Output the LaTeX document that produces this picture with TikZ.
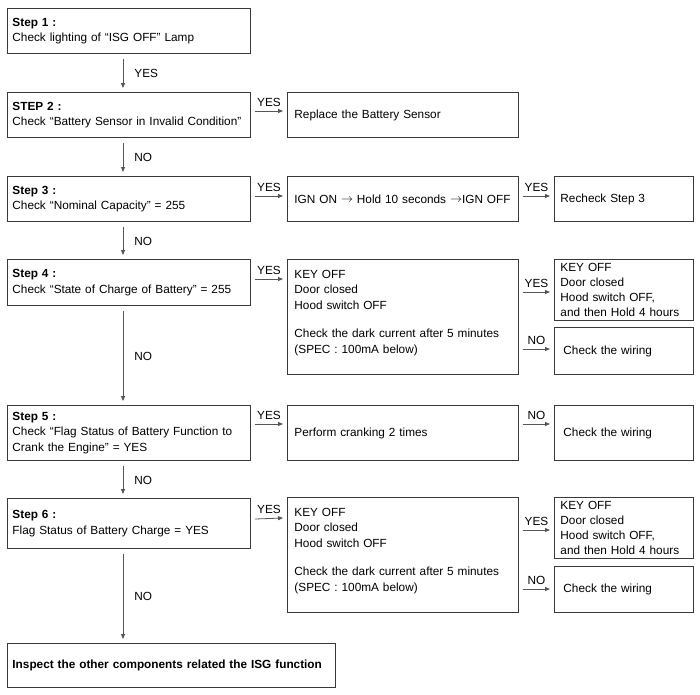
\documentclass[tikz,border=0pt]{standalone}
\usepackage{fontspec}
\setmainfont{Liberation Sans}
\usetikzlibrary{arrows.meta,calc}
\definecolor{boxc}{HTML}{3A3A3A}
\definecolor{arrc}{HTML}{555555}
\newcommand{\msz}{\fontsize{11.8}{15.5}\selectfont}
\newcommand{\rarr}{\raisebox{0.3pt}{$\rightarrow$}}
\begin{document}
\begin{tikzpicture}[x=1pt,y=-1pt,
  box/.style={draw=boxc, line width=0.9pt, anchor=north west, align=left,
    inner xsep=5pt, inner ysep=0pt, font=\msz},
  arr/.style={draw=arrc, line width=0.8pt, -{Triangle[length=5pt,width=4pt]}},
  lab/.style={font=\msz, inner sep=1pt, text=black}]
\useasboundingbox (0,0) rectangle (700,694);
% left column
\node[box, text width=233pt, minimum height=45pt] (s1) at (7,8) {\textbf{Step 1 :}\\Check lighting of “ISG OFF” Lamp};
\node[box, text width=233pt, minimum height=45pt] (s2) at (7,92) {\textbf{STEP 2 :}\\Check “Battery Sensor in Invalid Condition”};
\node[box, text width=233pt, minimum height=45pt] (s3) at (7,176) {\textbf{Step 3 :}\\Check “Nominal Capacity” = 255};
\node[box, text width=233pt, minimum height=46pt] (s4) at (7,259) {\textbf{Step 4 :}\\Check “State of Charge of Battery” = 255};
\node[box, text width=233pt, minimum height=55pt] (s5) at (7,405) {\textbf{Step 5 :}\\Check “Flag Status of Battery Function to\\Crank the Engine” = YES};
\node[box, text width=233pt, minimum height=50pt] (s6) at (7,498) {\textbf{Step 6 :}\\Flag Status of Battery Charge = YES};
\node[box, text width=318pt, minimum height=44pt] (fin) at (7,643) {\textbf{Inspect the other components related the ISG function}};
% middle column
\node[box, inner xsep=7pt, text width=217pt, minimum height=45pt] (r2) at (287,92) {Replace the Battery Sensor};
\node[box, inner xsep=7pt, text width=217pt, minimum height=45pt] (r3) at (287,176) {IGN ON \rarr{} Hold 10 seconds \rarr IGN OFF};
\node[box, inner xsep=7pt, text width=217pt, minimum height=115pt] (r4) at (287,259) {KEY OFF\\Door closed\\Hood switch OFF\\[13pt]Check the dark current after 5 minutes\\(SPEC : 100mA below)\\[-5pt]\mbox{}};
\node[box, inner xsep=7pt, text width=217pt, minimum height=55pt] (r5) at (287,405) {Perform cranking 2 times};
\node[box, inner xsep=7pt, text width=217pt, minimum height=115pt] (r6) at (287,497) {KEY OFF\\Door closed\\Hood switch OFF\\[13pt]Check the dark current after 5 minutes\\(SPEC : 100mA below)\\[-5pt]\mbox{}};
% right column
\node[box, inner xsep=6pt, text width=127pt, minimum height=45pt] (q3) at (554,176) {Recheck Step 3};
\node[box, inner xsep=6pt, text width=127pt, minimum height=61pt, font=\fontsize{11.8}{15}\selectfont] (q4a) at (554,259) {KEY OFF\\Door closed\\Hood switch OFF,\\and then Hold 4 hours};
\node[box, inner xsep=9pt, text width=121pt, minimum height=47pt] (q4b) at (554,327) {Check the wiring};
\node[box, inner xsep=9pt, text width=121pt, minimum height=55pt] (q5) at (554,405) {Check the wiring};
\node[box, inner xsep=6pt, text width=127pt, minimum height=61pt, font=\fontsize{11.8}{15}\selectfont] (q6a) at (554,497) {KEY OFF\\Door closed\\Hood switch OFF,\\and then Hold 4 hours};
\node[box, inner xsep=9pt, text width=121pt, minimum height=46pt] (q6b) at (554,566) {Check the wiring};
% vertical arrows
\draw[arr] ($(s1.south west)+(116,5)$) -- node[lab, midway, right, xshift=10pt] {YES} ($(s2.north west)+(116,-4)$);
\draw[arr] ($(s2.south west)+(116,5)$) -- node[lab, midway, right, xshift=10pt] {NO} ($(s3.north west)+(116,-4)$);
\draw[arr] ($(s3.south west)+(116,5)$) -- node[lab, midway, right, xshift=10pt] {NO} ($(s4.north west)+(116,-4)$);
\draw[arr] ($(s4.south west)+(116,5)$) -- node[lab, midway, right, xshift=10pt] {NO} ($(s5.north west)+(116,-4)$);
\draw[arr] ($(s5.south west)+(116,5)$) -- node[lab, midway, right, xshift=10pt] {NO} ($(s6.north west)+(116,-4)$);
\draw[arr] ($(s6.south west)+(116,5)$) -- node[lab, midway, right, xshift=10pt] {NO} ($(fin.north west)+(116,-4)$);
% horizontal arrows
\draw[arr] ($(s2.north east)+(4,19)$) -- node[lab, midway, above, yshift=3pt] {YES} ($(r2.north west)+(-4,19)$);
\draw[arr] ($(s3.north east)+(4,20)$) -- node[lab, midway, above, yshift=3pt] {YES} ($(r3.north west)+(-4,20)$);
\draw[arr] ($(r3.north east)+(4,20)$) -- node[lab, midway, above, yshift=3pt] {YES} ($(q3.north west)+(-4,20)$);
\draw[arr] ($(s4.north east)+(4,20)$) -- node[lab, midway, above, yshift=3pt] {YES} ($(r4.north west)+(-4,20)$);
\draw[arr] ($(r4.north east)+(4,33)$) -- node[lab, midway, above, yshift=3pt] {YES} ($(q4a.north west)+(-4,33)$);
\draw[arr] ($(r4.north east)+(4,90)$) -- node[lab, midway, above, yshift=3pt] {NO} ($(q4b.north west)+(-4,22)$);
\draw[arr] ($(s5.north east)+(4,19)$) -- node[lab, midway, above, yshift=3pt] {YES} ($(r5.north west)+(-4,19)$);
\draw[arr] ($(r5.north east)+(4,19)$) -- node[lab, midway, above, yshift=3pt] {NO} ($(q5.north west)+(-4,19)$);
\draw[arr] ($(s6.north east)+(4,21)$) -- node[lab, midway, above, yshift=3pt] {YES} ($(r6.north west)+(-4,21)$);
\draw[arr] ($(r6.north east)+(4,33)$) -- node[lab, midway, above, yshift=3pt] {YES} ($(q6a.north west)+(-4,33)$);
\draw[arr] ($(r6.north east)+(4,92)$) -- node[lab, midway, above, yshift=3pt] {NO} ($(q6b.north west)+(-4,23)$);
\end{tikzpicture}
\end{document}
